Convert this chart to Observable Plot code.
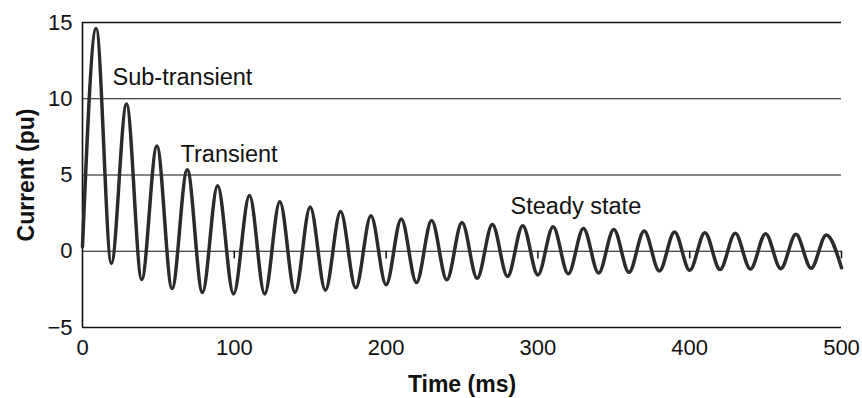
<!DOCTYPE html>
<html>
<head>
<meta charset="utf-8">
<script src="https://cdn.jsdelivr.net/npm/d3@7"></script>
<script src="https://cdn.jsdelivr.net/npm/@observablehq/plot@0.6"></script>
<style>
  html, body { margin: 0; padding: 0; background: #fff; }
</style>
</head>
<body>
<div id="chart"></div>
<script>
// Times (ms) of the read-off peaks and troughs of the waveform
const timeMs = [0, 9, 19, 29, 39, 49, 59, 69, 79, 89, 99.5, 110, 120, 130, 140, 150, 160, 170, 180, 190,
  200, 210, 220, 230, 240, 250, 260, 270, 280, 290, 300, 310, 320, 330, 340, 350, 360, 370, 380, 390,
  400, 410, 420, 430, 440, 450, 460, 470, 480, 490, 500];
// Current (pu) at those times
const currentPu = [0.3, 14.6, -0.8, 9.65, -1.85, 6.9, -2.45, 5.35, -2.7, 4.3, -2.8, 3.65, -2.8, 3.25, -2.7, 2.9, -2.55, 2.6, -2.4, 2.33,
  -2.2, 2.12, -2.05, 2.02, -1.87, 1.88, -1.77, 1.76, -1.65, 1.68, -1.55, 1.6, -1.48, 1.5, -1.43, 1.43, -1.38, 1.33, -1.3, 1.27,
  -1.25, 1.22, -1.2, 1.18, -1.17, 1.15, -1.14, 1.11, -1.11, 1.07, -1.08];

const xTicks = [0, 100, 200, 300, 400, 500];
const yTicks = [-5, 0, 5, 10, 15];
const gridValues = [0, 5, 10, 15];
const zeroTicks = [100, 200, 300, 400, 500];

const annotationText = ["Sub-transient", "Transient", "Steady state"];
const annotationX = [19.8, 64.6, 282];
const annotationY = [10.9, 5.88, 2.42];

const xLabel = "Time (ms)";
const yLabel = "Current (pu)";

const wave = timeMs.map((t, i) => ({t, v: currentPu[i]}));
const notes = annotationText.map((s, i) => ({s, x: annotationX[i], y: annotationY[i]}));

const chart = Plot.plot({
  width: 862,
  height: 398,
  marginLeft: 82,
  marginRight: 21,
  marginTop: 22,
  marginBottom: 71,
  style: {fontFamily: "'Liberation Sans', Arial, sans-serif", fontSize: "22px", color: "#111", background: "#fff"},
  x: {domain: [0, 500], ticks: xTicks, tickSize: 0, tickPadding: 12, label: null},
  y: {domain: [-5, 15], ticks: yTicks, tickSize: 0, tickPadding: 10, label: null,
      tickFormat: d => d < 0 ? "\u2212" + Math.abs(d) : String(d)},
  marks: [
    Plot.ruleY(gridValues, {stroke: "#111", strokeWidth: d => d === 15 ? 1.6 : 1}),
    Plot.ruleY([-5], {stroke: "#111", strokeWidth: 1.6}),
    Plot.ruleX([0], {stroke: "#111", strokeWidth: 1.6}),
    Plot.ruleX(zeroTicks, {y1: 0, y2: -0.5, stroke: "#111", strokeWidth: 1.5}),
    Plot.line(wave, {x: "t", y: "v", curve: "monotone-x", stroke: "#2b2b2b", strokeWidth: 3.5}),
    Plot.text(notes, {x: "x", y: "y", text: "s", textAnchor: "start", lineAnchor: "bottom", fontSize: 23.5, fill: "#111"}),
    Plot.text([xLabel], {frameAnchor: "bottom", textAnchor: "middle", dy: 64, lineAnchor: "bottom", fontWeight: "bold", fontSize: 23, fill: "#111"}),
    Plot.text([yLabel], {frameAnchor: "left", textAnchor: "middle", dx: -56, rotate: -90, lineAnchor: "middle", fontWeight: "bold", fontSize: 23, fill: "#111"})
  ]
});
document.getElementById("chart").appendChild(chart);
</script>
</body>
</html>
